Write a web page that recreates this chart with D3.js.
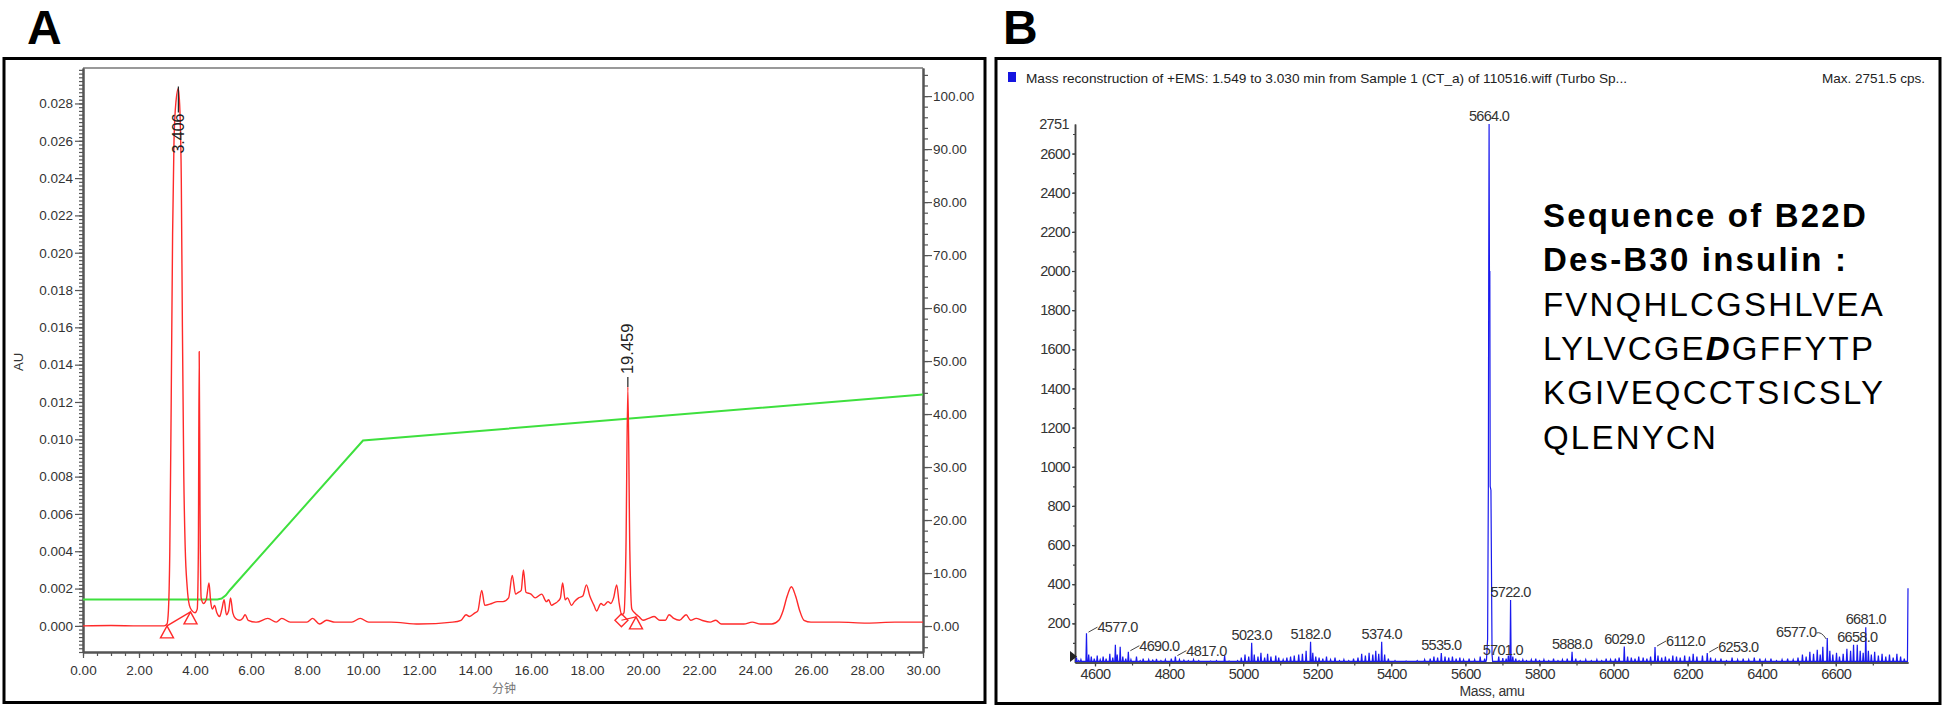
<!DOCTYPE html>
<html>
<head>
<meta charset="UTF-8">
<style>
  body { margin: 0; background: #fff; }
  svg { display: block; font-family: "Liberation Sans", Arial, sans-serif; }
</style>
</head>
<body>
<svg></svg>
<script src="https://d3js.org/d3.v7.min.js"></script>
<script>
let width = 1946, height = 711;

// ---------- panel A : HPLC trace (minutes, AU) ----------
let hplcPoints = [
  [0, 0], [1, 0.00002], [2, 0], [2.9, 0], [3.0, 0.0001], [3.05, 0.0008], [3.1, 0.004], [3.15, 0.012],
  [3.2, 0.021], [3.25, 0.026], [3.32, 0.0281], [3.406, 0.0288], [3.47, 0.0272], [3.51, 0.024],
  [3.55, 0.016], [3.6, 0.008], [3.65, 0.0042], [3.72, 0.0021], [3.8, 0.0011], [3.9, 0.0008],
  [4.0, 0.0007], [4.08, 0.0009], [4.12, 0.004], [4.15, 0.0147], [4.18, 0.006], [4.22, 0.0015],
  [4.3, 0.0012], [4.4, 0.0014], [4.5, 0.0023], [4.56, 0.0013], [4.62, 0.0009], [4.7, 0.0011],
  [4.78, 0.0007], [4.88, 0.0005], [4.96, 0.0009], [5.04, 0.0014], [5.12, 0.0006], [5.2, 0.0008],
  [5.27, 0.0015], [5.35, 0.0007], [5.45, 0.0004], [5.6, 0.0003], [5.7, 0.0004], [5.79, 0.0006],
  [5.9, 0.0003], [6.2, 0.0002], [6.6, 0.0004], [6.9, 0.0002], [7.1, 0.0004], [7.4, 0.0002],
  [8.0, 0.0002], [8.2, 0.0004], [8.45, 0.0001], [8.7, 0.0003], [9.0, 0.0002], [9.6, 0.0002],
  [9.9, 0.0004], [10.2, 0.0002], [11, 0.0002], [12, 0.0001], [13.2, 0.0002], [13.5, 0.0003],
  [13.68, 0.0006], [13.8, 0.0005], [14.0, 0.0007], [14.1, 0.0008], [14.24, 0.0019], [14.35, 0.0011],
  [14.6, 0.0012], [14.8, 0.0013], [15.0, 0.0013], [15.2, 0.0015], [15.33, 0.0027], [15.45, 0.0017],
  [15.55, 0.0018], [15.65, 0.0019], [15.73, 0.003], [15.82, 0.0018], [16.0, 0.0017], [16.15, 0.0015],
  [16.38, 0.0017], [16.55, 0.0013], [16.63, 0.0014], [16.73, 0.0011], [16.85, 0.0012], [16.95, 0.0013],
  [17.05, 0.0015], [17.13, 0.0023], [17.22, 0.0014], [17.3, 0.0015], [17.45, 0.0011], [17.55, 0.0013],
  [17.7, 0.0015], [17.85, 0.0016], [17.98, 0.0022], [18.1, 0.0016], [18.25, 0.0011], [18.34, 0.0008],
  [18.5, 0.0012], [18.6, 0.0011], [18.75, 0.0013], [18.85, 0.0012], [18.95, 0.0015], [19.06, 0.0022],
  [19.15, 0.0012], [19.24, 0.0006], [19.32, 0.0007], [19.39, 0.004], [19.459, 0.0128], [19.53, 0.004],
  [19.6, 0.0009], [19.7, 0.0007], [19.85, 0.0005], [20.0, 0.0003], [20.2, 0.0004], [20.4, 0.0005],
  [20.6, 0.0003], [20.8, 0.0003], [20.93, 0.0006], [21.1, 0.0004], [21.3, 0.0003], [21.54, 0.0006],
  [21.7, 0.0003], [21.9, 0.0004], [22.1, 0.0003], [22.4, 0.0002], [22.6, 0.0003], [22.8, 0.0001],
  [23.2, 0.0001], [23.6, 0.0001], [23.9, 0.0002], [24.2, 0.0001], [24.6, 0.0001], [24.85, 0.0003],
  [25.0, 0.0008], [25.15, 0.0016], [25.3, 0.0021], [25.45, 0.0016], [25.6, 0.0008], [25.75, 0.0003],
  [26.0, 0.0002], [27.0, 0.0002], [28.0, 0.00015], [29, 0.0002], [30, 0.0002]
];
// gradient (% B), right axis
let gradPoints = [[0, 5], [4.8, 5], [4.95, 5.2], [5.1, 5.8], [5.25, 6.8], [10, 35], [30, 43.7]];
// labelled peaks
let peakTimes = [3.406, 19.459];
let peakLabels = ["3.406", "19.459"];
// integration markers
let markTimes = [3.0, 3.84, 19.23, 19.75];
let markAU = [0.0, 0.00075, 0.0003, 0.00048];
let markShape = ["tri", "tri", "diamond", "tri"];
// axis ticks
let auTicks = d3.range(0, 15).map(i => i * 0.002);
let pctTicks = d3.range(0, 11).map(i => i * 10);
let minTicks = d3.range(0, 16).map(i => i * 2);

// ---------- panel B : mass spectrum ----------
let specPeaks = [
  [4550, 25], [4556, 10], [4562, 15], [4577, 150], [4583, 40], [4590, 30], [4598, 20], [4606, 35],
  [4614, 15], [4622, 30], [4630, 20], [4640, 45], [4648, 25], [4655, 90], [4660, 40], [4668, 80],
  [4675, 30], [4683, 20], [4690, 55], [4697, 15], [4712, 30], [4722, 10], [4730, 20], [4745, 15],
  [4756, 12], [4766, 18], [4778, 10], [4790, 15], [4806, 20], [4817, 30], [4828, 15], [4840, 12],
  [4852, 10], [4866, 15], [4880, 10], [4895, 6], [4912, 8], [4928, 10], [4950, 35], [4962, 8],
  [4985, 10], [4995, 25], [5005, 40], [5015, 30], [5023, 101], [5030, 40], [5040, 30], [5048, 50],
  [5058, 25], [5066, 45], [5075, 30], [5088, 35], [5096, 25], [5108, 15], [5118, 25], [5128, 30],
  [5138, 35], [5150, 40], [5160, 45], [5170, 60], [5182, 106], [5188, 50], [5196, 30], [5205, 25],
  [5215, 20], [5225, 30], [5236, 15], [5248, 25], [5260, 10], [5272, 15], [5285, 10], [5298, 20],
  [5310, 25], [5320, 45], [5330, 35], [5340, 50], [5350, 40], [5358, 60], [5366, 45], [5374, 106],
  [5382, 40], [5392, 20], [5410, 10], [5440, 8], [5470, 10], [5490, 15], [5505, 20], [5515, 30],
  [5525, 25], [5535, 48], [5545, 30], [5555, 25], [5565, 30], [5575, 20], [5585, 25], [5595, 15],
  [5610, 20], [5625, 15], [5640, 30], [5652, 20], [5657, 15], [5660, 120], [5662, 900], [5663, 2030],
  [5664, 2751], [5665, 1930], [5666, 2000], [5667, 900], [5669, 880], [5672, 40], [5690, 30],
  [5701, 22], [5710, 20], [5716, 35], [5722, 319], [5728, 30], [5736, 20], [5745, 10], [5755, 15],
  [5765, 10], [5778, 15], [5790, 20], [5800, 10], [5812, 15], [5825, 10], [5838, 20], [5850, 10],
  [5862, 15], [5875, 20], [5888, 55], [5898, 20], [5910, 10], [5925, 15], [5940, 10], [5955, 15],
  [5968, 10], [5980, 20], [5992, 15], [6005, 20], [6015, 25], [6029, 81], [6038, 30], [6048, 25],
  [6058, 20], [6068, 30], [6080, 25], [6090, 20], [6100, 30], [6112, 79], [6120, 35], [6130, 25],
  [6140, 30], [6150, 20], [6160, 35], [6170, 30], [6180, 25], [6192, 35], [6205, 30], [6215, 45],
  [6225, 30], [6240, 35], [6253, 48], [6262, 25], [6275, 15], [6290, 20], [6305, 10], [6320, 25],
  [6335, 15], [6350, 20], [6365, 15], [6380, 25], [6395, 20], [6410, 15], [6425, 20], [6440, 10],
  [6455, 15], [6470, 20], [6485, 15], [6498, 25], [6510, 40], [6520, 30], [6530, 55], [6540, 45],
  [6550, 65], [6558, 40], [6565, 80], [6577, 125], [6584, 60], [6592, 40], [6602, 50], [6610, 30],
  [6620, 45], [6630, 70], [6640, 60], [6648, 90], [6658, 90], [6666, 60], [6674, 50], [6681, 180],
  [6688, 60], [6696, 40], [6705, 55], [6715, 35], [6725, 45], [6735, 30], [6745, 40], [6755, 25],
  [6765, 45], [6775, 30], [6785, 20], [6795, 379]
];
let labelMasses = [4577, 4690, 4817, 5023, 5182, 5374, 5535, 5664, 5701, 5722, 5888, 6029, 6112, 6253, 6577, 6658, 6681];
let countTicks = d3.range(1, 14).map(i => i * 200);
let massTicks = d3.range(0, 11).map(i => 4600 + i * 200);
let titleB = "Mass reconstruction of +EMS: 1.549 to 3.030 min from Sample 1 (CT_a) of 110516.wiff (Turbo Sp...";
let maxB = "Max. 2751.5 cps.";
let seqTitle = ["Sequence of B22D", "Des-B30 insulin :"];
let seqLines = [["FVNQHLCGSHLVEA"], ["LYLVCGE", "D", "GFFYTP"], ["KGIVEQCCTSICSLY"], ["QLENYCN"]];

// ---------- drawing ----------
let svg = d3.select("svg").attr("width", width).attr("height", height);

// panel letters and frames
svg.append("text").attr("x", 27).attr("y", 44).attr("font-size", 48).attr("font-weight", "bold").text("A");
svg.append("text").attr("x", 1003).attr("y", 44).attr("font-size", 48).attr("font-weight", "bold").text("B");
svg.append("rect").attr("x", 4).attr("y", 58.5).attr("width", 981).attr("height", 644)
  .attr("fill", "none").attr("stroke", "#000").attr("stroke-width", 3);
svg.append("rect").attr("x", 996).attr("y", 58.5).attr("width", 944).attr("height", 645)
  .attr("fill", "none").attr("stroke", "#000").attr("stroke-width", 3);

// ===== panel A =====
let xA = d3.scaleLinear().domain([0, 30]).range([83, 923]);
let yA = d3.scaleLinear().domain([-0.0014, 0.0299]).range([652, 68]);
let yR = d3.scaleLinear().domain([-4.9, 105.3]).range([652, 68]);

let gA = svg.append("g");

// frame top line
gA.append("line").attr("x1", 83).attr("x2", 923).attr("y1", 68).attr("y2", 68)
  .attr("stroke", "#777").attr("stroke-width", 1.5);

function styleAxis(g, col, w) {
  g.select(".domain").attr("stroke", col).attr("stroke-width", w);
  g.selectAll(".tick line").attr("stroke", col).attr("stroke-width", 1.2);
  g.selectAll(".tick text").attr("fill", "#333");
}

// minor ticks
let minorAU = d3.range(-7, 150).map(i => i * 0.0002).filter(v => v <= 0.0298);
gA.append("g").attr("transform", "translate(83,0)")
  .call(d3.axisLeft(yA).tickValues(minorAU).tickFormat("").tickSize(4).tickSizeOuter(0))
  .call(g => styleAxis(g, "#555", 2));
gA.append("g").attr("transform", "translate(83,0)")
  .call(d3.axisLeft(yA).tickValues(auTicks).tickFormat(d3.format(".3f")).tickSize(8).tickPadding(2).tickSizeOuter(0))
  .call(g => styleAxis(g, "#555", 2))
  .selectAll("text").attr("font-size", 13.5);

let minorPct = d3.range(-2, 53).map(i => i * 2);
gA.append("g").attr("transform", "translate(923,0)")
  .call(d3.axisRight(yR).tickValues(minorPct).tickFormat("").tickSize(5).tickSizeOuter(0))
  .call(g => styleAxis(g, "#555", 2));
gA.append("g").attr("transform", "translate(923,0)")
  .call(d3.axisRight(yR).tickValues(pctTicks).tickFormat(d3.format(".2f")).tickSize(9).tickPadding(1).tickSizeOuter(0))
  .call(g => styleAxis(g, "#555", 2))
  .selectAll("text").attr("font-size", 13.5);

let minorMin = d3.range(0, 61).map(i => i * 0.5);
gA.append("g").attr("transform", "translate(0,652)")
  .call(d3.axisBottom(xA).tickValues(minorMin).tickFormat("").tickSize(4).tickSizeOuter(0))
  .call(g => styleAxis(g, "#555", 2));
gA.append("g").attr("transform", "translate(0,652)")
  .call(d3.axisBottom(xA).tickValues(minTicks).tickFormat(d3.format(".2f")).tickSize(6).tickPadding(7).tickSizeOuter(0))
  .call(g => styleAxis(g, "#555", 2))
  .selectAll("text").attr("font-size", 13.5);

// axis titles
gA.append("text").attr("transform", "translate(23,362) rotate(-90)").attr("text-anchor", "middle")
  .attr("font-size", 13).attr("fill", "#333").text("AU");
gA.append("text").attr("x", 504).attr("y", 693).attr("text-anchor", "middle")
  .attr("font-family", "Noto Sans CJK SC").attr("font-size", 12).attr("fill", "#777").text("分钟");

// gradient line
gA.append("path").datum(gradPoints)
  .attr("d", d3.line().x(d => xA(d[0])).y(d => yR(d[1])))
  .attr("fill", "none").attr("stroke", "#3ee03e").attr("stroke-width", 2);

// chromatogram
gA.append("path").datum(hplcPoints)
  .attr("d", d3.line().x(d => xA(d[0])).y(d => yA(d[1])).curve(d3.curveMonotoneX))
  .attr("fill", "none").attr("stroke", "#ff2a2a").attr("stroke-width", 1.4);

// integration baselines and markers
let markers = markTimes.map((t, i) => ({ x: xA(t), y: yA(markAU[i]), shape: markShape[i] }));
gA.append("line").attr("x1", markers[0].x).attr("y1", markers[0].y).attr("x2", markers[1].x).attr("y2", markers[1].y)
  .attr("stroke", "#ff2a2a").attr("stroke-width", 1.4);
gA.append("line").attr("x1", markers[2].x).attr("y1", markers[2].y).attr("x2", markers[3].x).attr("y2", markers[3].y)
  .attr("stroke", "#ff2a2a").attr("stroke-width", 1.2);
gA.selectAll("path.mark").data(markers).enter().append("path")
  .attr("class", "mark")
  .attr("d", d => d.shape === "tri"
    ? `M${d.x},${d.y} L${d.x + 6.5},${d.y + 12} L${d.x - 6.5},${d.y + 12} Z`
    : `M${d.x},${d.y - 6.5} L${d.x + 6.5},${d.y} L${d.x},${d.y + 6.5} L${d.x - 6.5},${d.y} Z`)
  .attr("fill", "none").attr("stroke", "#ff2a2a").attr("stroke-width", 1.4);

// peak labels
peakTimes.forEach((t, i) => {
  let apex = hplcPoints.find(p => p[0] === t);
  let px = xA(t), py = yA(apex[1]);
  if (i === 0) {
    gA.append("line").attr("x1", px).attr("x2", px).attr("y1", py - 2).attr("y2", py + 24)
      .attr("stroke", "#222").attr("stroke-width", 1.2);
    gA.append("text").attr("transform", `translate(${px + 5.5},${py + 25}) rotate(-90)`)
      .attr("text-anchor", "end").attr("font-size", 16).attr("fill", "#222").text(peakLabels[i]);
  } else {
    gA.append("line").attr("x1", px).attr("x2", px).attr("y1", py - 10).attr("y2", py)
      .attr("stroke", "#222").attr("stroke-width", 1.2);
    gA.append("text").attr("transform", `translate(${px + 5.5},${py - 13}) rotate(-90)`)
      .attr("text-anchor", "start").attr("font-size", 16.5).attr("fill", "#222").text(peakLabels[i]);
  }
});

// ===== panel B =====
let xB = d3.scaleLinear().domain([4546, 6795]).range([1075, 1908]);
let yB = d3.scaleLinear().domain([0, 2751]).range([662.5, 124]);
let gB = svg.append("g");

gB.append("rect").attr("x", 1008).attr("y", 72).attr("width", 8).attr("height", 10).attr("fill", "#1515e0");
gB.append("text").attr("x", 1026).attr("y", 83).attr("font-size", 13.5).attr("fill", "#222")
  .attr("textLength", 601).attr("lengthAdjust", "spacingAndGlyphs").text(titleB);
gB.append("text").attr("x", 1822).attr("y", 83).attr("font-size", 13.5).attr("fill", "#222")
  .attr("textLength", 103).attr("lengthAdjust", "spacingAndGlyphs").text(maxB);

let minorCount = d3.range(1, 28).map(i => i * 100);
gB.append("g").attr("transform", "translate(1075,0)")
  .call(d3.axisLeft(yB).tickValues(minorCount).tickFormat("").tickSize(2).tickSizeOuter(0))
  .call(g => styleAxis(g, "#444", 1.5));
gB.append("g").attr("transform", "translate(1075,0)")
  .call(d3.axisLeft(yB).tickValues(countTicks).tickFormat(d3.format("d")).tickSize(3).tickPadding(2).tickSizeOuter(0))
  .call(g => styleAxis(g, "#444", 1.5))
  .selectAll("text").attr("font-size", 14.5).attr("letter-spacing", -0.6);
gB.append("text").attr("x", 1069).attr("y", yB(2751)).attr("dy", "0.35em").attr("text-anchor", "end")
  .attr("font-size", 14.5).attr("letter-spacing", -0.6).attr("fill", "#333").text("2751");

let minorMass = d3.range(0, 22).map(i => 4600 + i * 100);
gB.append("g").attr("transform", "translate(0,662.5)")
  .call(d3.axisBottom(xB).tickValues(minorMass).tickFormat("").tickSize(3).tickSizeOuter(0))
  .call(g => styleAxis(g, "#444", 1.5));
gB.append("g").attr("transform", "translate(0,662.5)")
  .call(d3.axisBottom(xB).tickValues(massTicks).tickFormat(d3.format("d")).tickSize(4).tickPadding(2).tickSizeOuter(0))
  .call(g => styleAxis(g, "#444", 1.5))
  .selectAll("text").attr("font-size", 14.5).attr("letter-spacing", -0.6);
gB.append("text").attr("x", 1492).attr("y", 696).attr("text-anchor", "middle")
  .attr("font-size", 14).attr("letter-spacing", -0.4).attr("fill", "#333").text("Mass, amu");

// origin marker
gB.append("path").attr("d", "M1070,651 L1077,656.5 L1070,662 Z").attr("fill", "#222");

// spectrum profile: spikes joined through a low baseline
let base = 6;
let profile = [[4546, base]];
specPeaks.forEach((p, i) => {
  let prev = i > 0 ? specPeaks[i - 1][0] : 4546;
  if (p[0] - prev > 3) profile.push([p[0] - 1.5, base]);
  profile.push(p);
  let next = i < specPeaks.length - 1 ? specPeaks[i + 1][0] : 6795;
  if (next - p[0] > 3) profile.push([p[0] + 1.5, base]);
});
gB.append("path").datum(profile)
  .attr("d", d3.line().x(d => xB(d[0])).y(d => yB(d[1])))
  .attr("fill", "none").attr("stroke", "#1a1aee").attr("stroke-width", 1.2);

// peak labels
let leader = { 4577: "right", 4690: "right", 4817: "right", 6112: "right", 6253: "right", 6577: "left" };
labelMasses.forEach(m => {
  let pk = specPeaks.find(p => p[0] === m);
  let px = xB(m), py = yB(pk[1]);
  let txt = m.toFixed(1);
  let side = leader[m];
  let t = gB.append("text").attr("font-size", 14.5).attr("letter-spacing", -0.7).attr("fill", "#333").text(txt);
  if (side === "right") {
    gB.append("line").attr("x1", px + 2).attr("y1", py - 1).attr("x2", px + 11).attr("y2", py - 6)
      .attr("stroke", "#444").attr("stroke-width", 1);
    t.attr("x", px + 11).attr("y", py - 1);
  } else if (side === "left") {
    gB.append("path").attr("d", `M${px - 11},${py - 5} Q${px - 6},${py - 7} ${px - 1},${py + 1}`)
      .attr("fill", "none").attr("stroke", "#444").attr("stroke-width", 1);
    t.attr("x", px - 11).attr("y", py - 1).attr("text-anchor", "end");
  } else {
    t.attr("x", px).attr("y", py - 3).attr("text-anchor", "middle");
  }
});

// sequence text block
let seq = gB.append("g").attr("font-size", 33).attr("fill", "#000").attr("letter-spacing", 2.2);
seqTitle.forEach((s, i) => {
  seq.append("text").attr("x", 1543).attr("y", 227 + i * 44.3).attr("font-weight", "bold").text(s);
});
seqLines.forEach((parts, i) => {
  let t = seq.append("text").attr("x", 1543).attr("y", 227 + (i + 2) * 44.3);
  parts.forEach((p, j) => {
    let ts = t.append("tspan").text(p);
    if (parts.length === 3 && j === 1) ts.attr("font-weight", "bold").attr("font-style", "italic");
  });
});
</script>
</body>
</html>
